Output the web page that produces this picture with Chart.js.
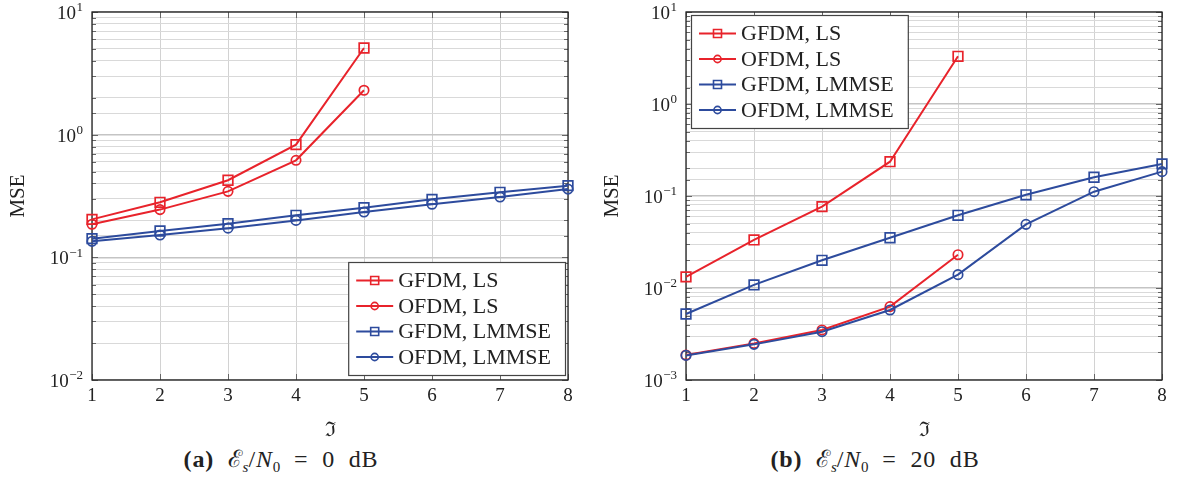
<!DOCTYPE html>
<html>
<head>
<meta charset="utf-8">
<script src="https://cdn.jsdelivr.net/npm/chart.js@4.4.1/dist/chart.umd.min.js"></script>
<style>
  html, body { margin: 0; padding: 0; background: #fff; }
  body { width: 1177px; height: 492px; overflow: hidden; position: relative;
         font-family: 'Liberation Serif', 'DejaVu Serif', serif; color: #222; }
  canvas { position: absolute; top: 0; }
  #mseLow { left: 0; }
  #mseHigh { left: 594px; }
  .caption { position: absolute; top: 446px; width: 420px; text-align: center;
             font-size: 24px; line-height: 26px; white-space: nowrap;
             letter-spacing: 0.8px; word-spacing: 7px; }
  .caption sub { font-size: 15px; vertical-align: -5px; line-height: 0; letter-spacing: 0; }
  #capLow { left: 71px; }
  #capHigh { left: 665px; }
</style>
</head>
<body>
<canvas id="mseLow" width="590" height="445"></canvas>
<canvas id="mseHigh" width="590" height="445"></canvas>
<div class="caption" id="capLow"><b>(a)</b> ℰ<sub><i>s</i></sub>/<i>N</i><sub>0</sub> = 0 dB</div>
<div class="caption" id="capHigh"><b>(b)</b> ℰ<sub><i>s</i></sub>/<i>N</i><sub>0</sub> = 20 dB</div>
<script>
// Pilot index on the horizontal axis
const xLabels = ['1', '2', '3', '4', '5', '6', '7', '8'];
const seriesNames = ['GFDM, LS', 'OFDM, LS', 'GFDM, LMMSE', 'OFDM, LMMSE'];

// MSE at Es/N0 = 0 dB
const gfdmLs0    = [0.204, 0.281, 0.425, 0.829, 5.09];
const ofdmLs0    = [0.186, 0.245, 0.345, 0.618, 2.30];
const gfdmLmmse0 = [0.142, 0.164, 0.188, 0.220, 0.254, 0.297, 0.339, 0.384];
const ofdmLmmse0 = [0.135, 0.152, 0.173, 0.200, 0.234, 0.271, 0.310, 0.360];

// MSE at Es/N0 = 20 dB
const gfdmLs20    = [0.0132, 0.0333, 0.0766, 0.236, 3.30];
const ofdmLs20    = [0.00187, 0.00250, 0.00350, 0.00627, 0.0230];
const gfdmLmmse20 = [0.00522, 0.0108, 0.0200, 0.0352, 0.0617, 0.103, 0.160, 0.223];
const ofdmLmmse20 = [0.00185, 0.00244, 0.00335, 0.00577, 0.01397, 0.0492, 0.1114, 0.184];

// Decade exponents labelled on each y axis
const decades0  = [-2, -1, 0, 1];
const decades20 = [-3, -2, -1, 0, 1];

const RED = '#e8232b';
const BLUE = '#2d4b9d';
const seriesColors = [RED, RED, BLUE, BLUE];
const seriesMarks = ['rect', 'circle', 'rect', 'circle'];
const SERIF = "'Liberation Serif', 'DejaVu Serif', serif";

function isDecade(v) {
  const l = Math.log10(v);
  return Math.abs(l - Math.round(l)) < 1e-6;
}

function markPath(ctx, style, x, y, r) {
  ctx.beginPath();
  if (style === 'rect') {
    ctx.rect(x - r, y - r, 2 * r, 2 * r);
  } else {
    ctx.arc(x, y, r, 0, Math.PI * 2);
  }
}

function buildDatasets(values) {
  return values.map((d, i) => ({
    label: seriesNames[i],
    data: d,
    borderColor: seriesColors[i],
    backgroundColor: seriesColors[i],
    borderWidth: 2,
    pointStyle: seriesMarks[i],
    pointRadius: seriesMarks[i] === 'rect' ? 6.8 : 4.7,
    pointBorderWidth: 1.7,
    pointBorderColor: seriesColors[i],
    pointBackgroundColor: 'rgba(255,255,255,0)',
    tension: 0,
    clip: false,
    order: 4 - i
  }));
}

// Frame, inward tick marks, power-of-ten labels and the boxed legend
const texFrame = {
  id: 'texFrame',
  beforeDatasetsDraw(chart) {
    const { ctx, chartArea: a, scales: { x, y } } = chart;
    ctx.save();
    ctx.strokeStyle = '#666';
    ctx.lineWidth = 1;
    const seg = (x1, y1, x2, y2) => { ctx.beginPath(); ctx.moveTo(x1, y1); ctx.lineTo(x2, y2); ctx.stroke(); };
    y.ticks.forEach(t => {
      const py = Math.round(y.getPixelForValue(t.value)) + 0.5;
      const len = isDecade(t.value) ? 6 : 4;
      seg(a.left, py, a.left + len, py);
      seg(a.right, py, a.right - len, py);
    });
    x.ticks.forEach((t, i) => {
      const px = Math.round(x.getPixelForTick(i)) + 0.5;
      seg(px, a.bottom, px, a.bottom - 6);
      seg(px, a.top, px, a.top + 6);
    });
    ctx.strokeStyle = '#222';
    ctx.lineWidth = 1.3;
    ctx.strokeRect(a.left, a.top, a.right - a.left, a.bottom - a.top);
    ctx.restore();
  },
  afterDraw(chart, args, opts) {
    const { ctx, chartArea: a, scales: { y } } = chart;
    ctx.save();
    ctx.fillStyle = '#222';
    // y tick labels written as 10 with a raised exponent
    opts.decades.forEach(e => {
      const py = y.getPixelForValue(Math.pow(10, e));
      const expText = e < 0 ? '\u2212' + Math.abs(e) : String(e);
      ctx.font = '13px ' + SERIF;
      const ew = ctx.measureText(expText).width;
      const xr = a.left - 9;
      ctx.textBaseline = 'middle';
      ctx.textAlign = 'left';
      ctx.fillText(expText, xr - ew, py - 4);
      ctx.font = '19px ' + SERIF;
      ctx.textAlign = 'right';
      ctx.fillText('10', xr - ew - 0.5, py + 2);
    });

    // legend
    ctx.font = '22px ' + SERIF;
    const ds = chart.data.datasets;
    let tw = 0;
    ds.forEach(d => { tw = Math.max(tw, ctx.measureText(d.label).width); });
    const w = 50 + tw + 14;
    const h = 113;
    let bx, by;
    if (opts.legendCorner === 'se') {
      bx = a.right - 3 - w;
      by = a.bottom - 5 - h;
    } else {
      bx = a.left + 5;
      by = a.top + 3;
    }
    ctx.fillStyle = '#fff';
    ctx.fillRect(bx, by, w, h);
    ctx.strokeStyle = '#444';
    ctx.lineWidth = 1.2;
    ctx.strokeRect(bx + 0.5, by + 0.5, w, h);
    ds.forEach((d, i) => {
      const ry = by + 18.5 + i * 25.5;
      ctx.strokeStyle = d.borderColor;
      ctx.lineWidth = 2;
      ctx.beginPath();
      ctx.moveTo(bx + 8, ry);
      ctx.lineTo(bx + 45, ry);
      ctx.stroke();
      ctx.lineWidth = 1.6;
      markPath(ctx, d.pointStyle, bx + 26.5, ry, d.pointStyle === 'rect' ? 4 : 3.6);
      ctx.stroke();
      ctx.fillStyle = '#222';
      ctx.textAlign = 'left';
      ctx.textBaseline = 'middle';
      ctx.fillText(d.label, bx + 50, ry + 1);
    });
    ctx.restore();
  }
};

function buildChart(id, values, yMin, decades, legendCorner) {
  return new Chart(document.getElementById(id), {
    type: 'line',
    data: { labels: xLabels, datasets: buildDatasets(values) },
    options: {
      responsive: false,
      animation: false,
      events: [],
      layout: { padding: { top: 12, right: 22, left: 0, bottom: 0 } },
      scales: {
        x: {
          type: 'category',
          offset: false,
          grid: { color: '#d2d2d2', lineWidth: 1, drawTicks: false },
          border: { display: false },
          ticks: { color: '#222', font: { family: SERIF, size: 19 }, padding: 5, maxRotation: 0, autoSkip: false },
          title: { display: true, text: '\u2111', color: '#222', font: { family: SERIF, size: 20, lineHeight: 1 }, padding: { top: 0, bottom: 4 } },
          afterFit(scale) { scale.height = 65; }
        },
        y: {
          type: 'logarithmic',
          min: yMin,
          max: 10,
          grid: {
            drawTicks: false,
            color: ctx => (ctx.tick && isDecade(ctx.tick.value)) ? '#c4c4c4' : '#d9d9d9',
            lineWidth: ctx => (ctx.tick && isDecade(ctx.tick.value)) ? 1.4 : 1
          },
          border: { display: false },
          ticks: { display: false, autoSkip: false },
          title: { display: true, text: 'MSE', color: '#222', font: { family: SERIF, size: 21, lineHeight: 1 }, padding: { top: 8, bottom: 0 } },
          afterFit(scale) { scale.width = 92; }
        }
      },
      plugins: {
        legend: { display: false },
        tooltip: { enabled: false },
        texFrame: { decades: decades, legendCorner: legendCorner }
      }
    },
    plugins: [texFrame]
  });
}

buildChart('mseLow', [gfdmLs0, ofdmLs0, gfdmLmmse0, ofdmLmmse0], 0.01, decades0, 'se');
buildChart('mseHigh', [gfdmLs20, ofdmLs20, gfdmLmmse20, ofdmLmmse20], 0.001, decades20, 'nw');
</script>
</body>
</html>
